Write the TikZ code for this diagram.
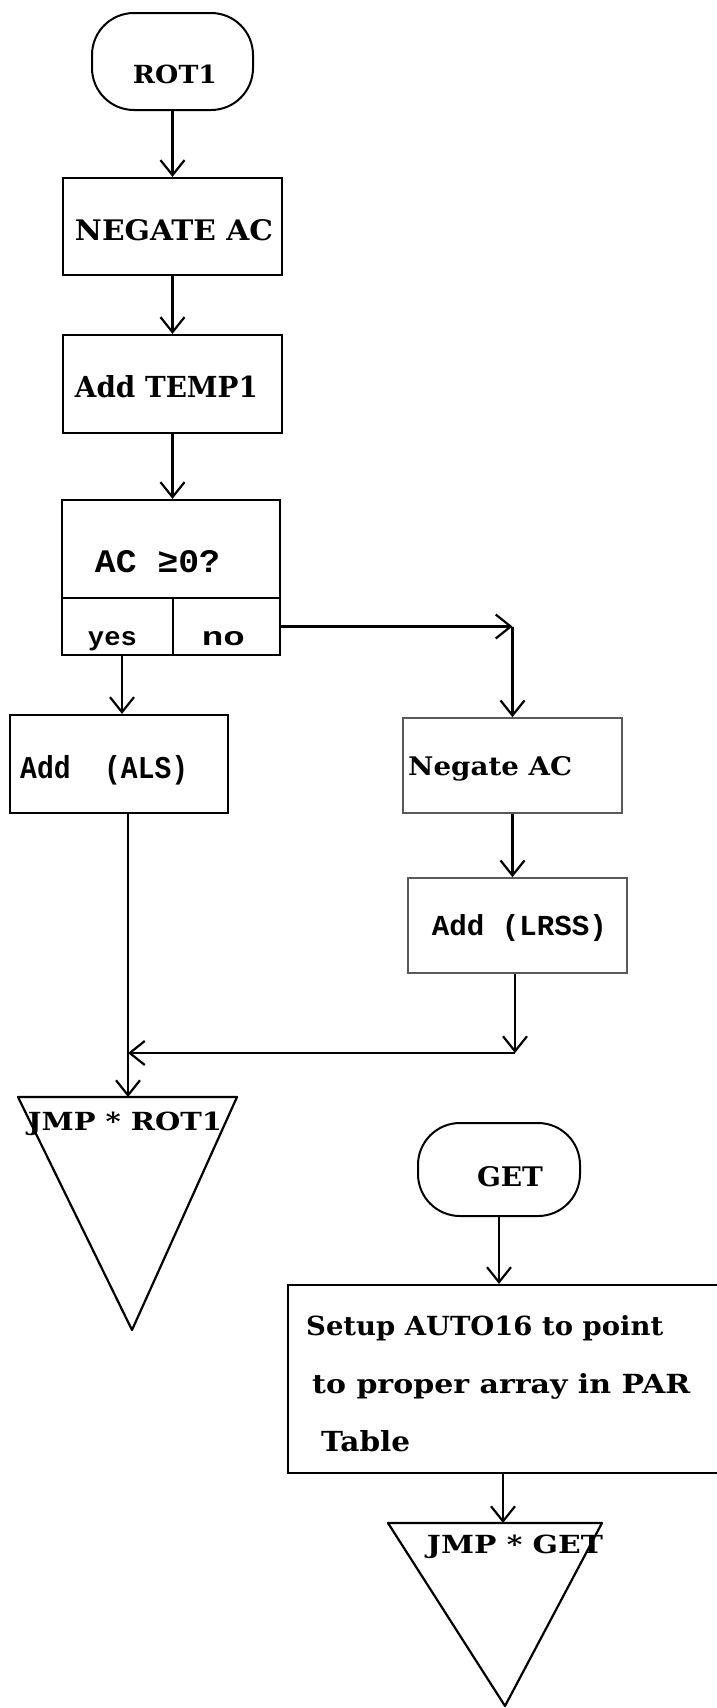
\documentclass[tikz,border=0pt]{standalone}
\usepackage{fontspec}
\usepackage{graphicx}
\usetikzlibrary{arrows.meta}
\newfontfamily\clarfont{DejaVu Serif}
\newfontfamily\twfont{Liberation Mono}
\newcommand{\clb}{\clarfont\bfseries}
\newcommand{\twb}{\twfont\bfseries}
\newcommand{\fitwh}[3]{\resizebox{#1pt}{#2pt}{#3}}
\tikzset{
  ln/.style={line width=2.2pt, line join=round},
  box/.style={draw, line width=2.2pt, inner sep=0pt},
  fbox/.style={draw=black!65, line width=1.6pt, inner sep=0pt},
  term/.style={draw, line width=2pt, inner sep=0pt, rounded corners=42pt},
  arr/.style={line width=2.2pt, -{Straight Barb[length=15pt,width=24pt]}},
  txt/.style={inner sep=0pt, anchor=base},
}
\begin{document}
\begin{tikzpicture}[x=1pt,y=-1pt]
\useasboundingbox (0,0) rectangle (716,1708);
% left column
\node[term, minimum width=161pt, minimum height=97pt] (rot1) at (172.5,61.5) {};
\node[txt] (trot1) at (175,83) {\fitwh{84}{18.5}{\clb ROT1}};
\node[box, minimum width=219pt, minimum height=97pt] (neg) at (172.5,226.5) {};
\node[txt] (tneg) at (174,240) {\fitwh{198}{21}{\clb NEGATE AC}};
\node[box, minimum width=219pt, minimum height=98pt] (addt) at (172.5,384) {};
\node[txt] (taddt) at (166.5,397) {\fitwh{183}{22}{\clb Add TEMP1}};
\node[box, minimum width=218pt, minimum height=98pt] (ac) at (171,549) {};
\node[txt] (tac) at (157.5,572) {\fitwh{125}{22}{\twb AC ≥0?}};
\node[box, minimum width=111pt, minimum height=57pt] (yes) at (117.5,626.5) {};
\node[box, minimum width=107pt, minimum height=57pt] (no) at (226.5,626.5) {};
\node[txt] (tyes) at (112.5,645) {\fitwh{49}{14}{\twb yes}};
\node[txt] (tno) at (223.5,645) {\fitwh{43}{14}{\twb no}};
\node[box, minimum width=218pt, minimum height=98pt] (als) at (119,764) {};
\node[txt, anchor=base west] (tals) at (20,778) {\fitwh{168}{23}{\twb Add\ \ (ALS)}};
% right column
\node[fbox, minimum width=219pt, minimum height=95pt] (negr) at (512.5,765.5) {};
\node[txt, anchor=base west] (tnegr) at (408,775) {\fitwh{164}{19}{\clb Negate AC}};
\node[fbox, minimum width=219pt, minimum height=95pt] (lrss) at (517.5,925.5) {};
\node[txt] (tlrss) at (519.5,935) {\fitwh{175}{21}{\twb Add (LRSS)}};
% JMP * ROT1 triangle
\coordinate (t1top) at (128,1097);
\draw[ln] (18,1097) -- (237,1097) -- (132,1330) -- cycle;
\node[txt] (tjr) at (125,1130) {\fitwh{194}{18.5}{\clb JMP * ROT1}};
\coordinate (m) at (515,1053);
% GET part
\node[term, minimum width=162pt, minimum height=93pt] (get) at (499,1169.5) {};
\node[txt] (tget) at (510,1186) {\fitwh{66}{20}{\clb GET}};
\node[box, minimum width=434pt, minimum height=188pt] (setup) at (505,1379) {};
\node[txt, anchor=base west] (s1) at (306,1335) {\fitwh{357}{20}{\clb Setup AUTO16 to point}};
\node[txt, anchor=base west] (s2) at (312,1393) {\fitwh{378}{20}{\clb to proper array in PAR}};
\node[txt, anchor=base west] (s3) at (321,1451) {\fitwh{89}{21}{\clb Table}};
\coordinate (t2top) at (503,1523);
\draw[ln] (388,1523) -- (602,1523) -- (505,1706) -- cycle;
\node[txt] (tjg) at (515,1553) {\fitwh{176}{18.5}{\clb JMP * GET}};
% connectors
\draw[arr] (rot1.south) -- (rot1.south |- neg.north);
\draw[arr] (neg.south -| rot1.south) -- (rot1.south |- addt.north);
\draw[arr] (addt.south -| rot1.south) -- (rot1.south |- ac.north);
\draw[arr] ([xshift=4.5pt]yes.south) -- ([xshift=4.5pt]yes.south |- als.north);
\draw[arr] (no.east) -- (no.east -| negr.north);
\draw[arr] (no.east -| negr.north) -- (negr.north);
\draw[arr] (negr.south) -- (negr.south |- lrss.north);
\draw[arr] (lrss.south -| m) -- (m);
\draw[arr] (m) -- (m -| t1top);
\draw[arr] (als.south -| t1top) -- (t1top);
\draw[arr] (get.south) -- (get.south |- setup.north);
\draw[arr] (setup.south -| t2top) -- (t2top);
\end{tikzpicture}
\end{document}
